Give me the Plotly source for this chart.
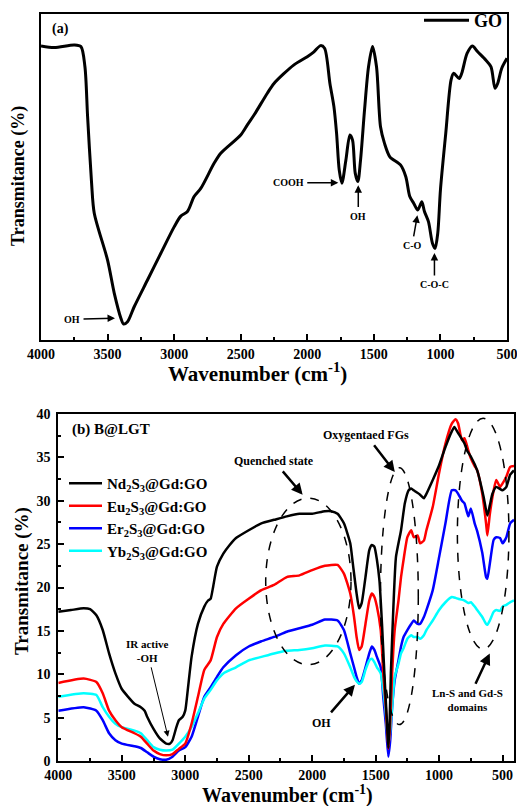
import plotly.graph_objects as go

FONT = "Liberation Serif, Times New Roman, serif"

# ---------------- (a) GO spectrum ----------------
go_wn = [4000, 3900, 3750, 3700, 3670, 3650, 3620, 3600, 3500, 3450,
         3400, 3380, 3350, 3300, 3200, 3100, 3000, 2950, 2900, 2850,
         2800, 2700, 2650, 2500, 2450, 2400, 2300, 2250, 2100, 2000,
         1950, 1900, 1870, 1830, 1800, 1780, 1760, 1740, 1710, 1680,
         1660, 1640, 1620, 1600, 1570, 1540, 1510, 1480, 1450, 1420,
         1380, 1300, 1260, 1230, 1200, 1170, 1140, 1120, 1090, 1060,
         1040, 1020, 1000, 960, 920, 900, 860, 840, 800, 760,
         720, 660, 620, 590, 570, 540, 500]
go_t = [90.2, 89.7, 90.5, 90.0, 83.8, 68.5, 48.1, 38.9, 24.5, 14.4,
        6.7, 4.9, 5.6, 10.2, 18.4, 26.6, 34.7, 38.0, 39.4, 44.0,
        46.5, 54.2, 57.3, 62.9, 66.0, 69.0, 75.7, 78.7, 84.4, 86.9,
        88.4, 90.3, 89.5, 78.7, 71.6, 63.4, 52.1, 48.1, 55.2, 62.9,
        61.3, 51.2, 48.6, 55.2, 70.6, 83.8, 90.0, 83.8, 65.4, 60.3,
        56.2, 53.7, 50.1, 44.0, 41.9, 39.9, 42.4, 39.4, 36.3, 29.7,
        28.1, 32.8, 46.0, 63.4, 79.8, 81.8, 80.2, 81.8, 87.9, 90.2,
        88.4, 85.9, 83.8, 77.2, 78.7, 83.3, 86.4]

# ---------------- (b) B@LGT spectra ----------------
nd_wn = [4000, 3900, 3800, 3750, 3700, 3650, 3600, 3550, 3500, 3450,
         3400, 3350, 3320, 3300, 3250, 3200, 3150, 3120, 3100, 3070,
         3050, 3020, 3000, 2980, 2950, 2900, 2850, 2820, 2800, 2780,
         2750, 2700, 2650, 2600, 2500, 2400, 2300, 2200, 2100, 2000,
         1900, 1850, 1800, 1750, 1700, 1680, 1650, 1630, 1610, 1580,
         1550, 1530, 1510, 1490, 1470, 1450, 1430, 1410, 1400, 1390,
         1380, 1360, 1340, 1300, 1270, 1240, 1220, 1200, 1180, 1150,
         1120, 1100, 1050, 1000, 950, 900, 880, 850, 800, 780,
         750, 700, 650, 620, 600, 580, 550, 500, 470, 440,
         410]
nd_t = [17.2, 17.4, 17.6, 17.5, 16.8, 15.1, 12.4, 10.1, 8.3, 7.4,
        6.6, 6.2, 5.8, 5.1, 3.7, 2.6, 2.0, 2.0, 2.4, 3.9,
        4.7, 5.1, 5.8, 8.2, 12.0, 15.8, 17.8, 18.5, 18.7, 20.1,
        22.4, 23.9, 24.9, 25.7, 26.6, 27.4, 27.8, 28.2, 28.5, 28.5,
        28.8, 28.8, 28.5, 27.4, 25.1, 22.8, 19.3, 17.6, 18.2, 21.2,
        24.3, 24.9, 24.7, 23.2, 20.8, 15.8, 9.7, 4.3, 1.5, 4.3,
        10.1, 17.8, 23.5, 26.6, 29.7, 31.2, 31.4, 31.2, 31.0, 30.7,
        30.3, 30.8, 32.4, 34.1, 36.2, 38.0, 38.5, 37.8, 36.6, 35.8,
        35.1, 33.5, 30.5, 28.3, 29.5, 30.8, 31.6, 31.2, 31.6, 33.0,
        33.5]

ln_wn = [4000, 3800, 3700, 3650, 3600, 3550, 3500, 3400, 3350, 3300,
         3250, 3200, 3150, 3100, 3050, 3000, 2950, 2900, 2850, 2800,
         2750, 2700, 2600, 2500, 2400, 2300, 2200, 2100, 2000, 1900,
         1800, 1750, 1700, 1670, 1650, 1630, 1610, 1580, 1550, 1530,
         1510, 1490, 1460, 1440, 1420, 1400, 1385, 1370, 1350, 1320,
         1300, 1280, 1250, 1220, 1200, 1170, 1150, 1120, 1100, 1050,
         1000, 950, 900, 870, 850, 820, 800, 770, 750, 720,
         700, 660, 630, 620, 600, 570, 550, 520, 500, 470,
         440, 410]
eu_t = [9.0, 9.5, 9.1, 7.8, 5.8, 4.7, 3.9, 3.2, 2.8, 2.0,
        1.2, 0.8, 0.65, 0.8, 1.4, 2.0, 4.3, 7.4, 10.5, 11.6,
        14.3, 15.8, 17.6, 18.7, 19.7, 20.3, 21.2, 21.4, 22.0, 22.5,
        22.6, 21.6, 19.3, 16.6, 14.3, 12.8, 13.2, 15.8, 18.5, 19.3,
        18.9, 17.8, 15.1, 10.1, 6.2, 1.4, 4.3, 10.1, 15.1, 18.5,
        21.2, 23.2, 25.8, 26.6, 25.8, 26.0, 25.1, 25.4, 26.6, 29.3,
        33.2, 36.6, 38.9, 39.4, 38.9, 37.0, 37.2, 35.8, 34.9, 34.0,
        33.5, 30.8, 27.4, 26.0, 28.5, 31.2, 32.4, 31.6, 32.0, 32.8,
        33.9, 34.0]
er_t = [5.8, 6.2, 5.8, 4.7, 3.2, 2.4, 2.0, 1.7, 1.5, 1.0,
        0.5, 0.2, 0.15, 0.5, 1.2, 1.6, 2.8, 5.1, 7.4, 8.5,
        9.7, 10.8, 12.2, 13.2, 13.8, 14.3, 14.9, 15.3, 15.7, 16.3,
        16.2, 15.1, 12.4, 10.8, 9.7, 8.9, 9.3, 10.8, 12.4, 13.2,
        12.8, 12.0, 10.8, 7.4, 4.3, 0.5, 2.4, 6.2, 9.3, 11.6,
        13.2, 14.3, 15.1, 15.8, 16.2, 15.8, 15.8, 16.6, 17.4, 19.7,
        23.5, 27.4, 31.2, 31.2, 30.8, 30.0, 29.7, 28.2, 29.1, 27.4,
        26.5, 24.0, 21.2, 21.0, 22.8, 25.5, 25.8, 25.7, 25.1, 25.8,
        27.4, 27.8]
yb_t = [7.4, 7.8, 7.6, 6.2, 5.1, 4.3, 3.9, 3.5, 3.2, 2.4,
        1.6, 1.3, 1.2, 1.3, 2.0, 2.8, 3.9, 5.5, 7.2, 8.2,
        9.3, 10.1, 10.8, 11.6, 12.0, 12.4, 12.7, 12.8, 13.0, 13.3,
        13.2, 12.4, 10.8, 9.7, 9.2, 8.9, 9.1, 10.5, 11.6, 11.8,
        11.4, 10.8, 10.1, 8.2, 5.5, 1.8, 3.5, 6.2, 9.7, 11.2,
        12.4, 13.0, 14.1, 14.5, 14.3, 14.3, 14.1, 14.5, 15.1, 16.2,
        17.4, 18.3, 18.9, 18.8, 18.7, 18.6, 18.5, 18.2, 18.3, 17.8,
        17.4, 16.6, 15.8, 15.7, 16.2, 17.2, 17.4, 17.3, 17.8, 18.0,
        18.3, 18.5]

series_b = [
    # (name, x, y, colour, legend rank) -- drawn bottom to top
    ("Er<sub>2</sub>S<sub>3</sub>@Gd:GO", ln_wn, er_t, "#0000ff", 3),
    ("Yb<sub>2</sub>S<sub>3</sub>@Gd:GO", ln_wn, yb_t, "#00ffff", 4),
    ("Eu<sub>2</sub>S<sub>3</sub>@Gd:GO", ln_wn, eu_t, "#ff0000", 2),
    ("Nd<sub>2</sub>S<sub>3</sub>@Gd:GO", nd_wn, nd_t, "#000000", 1),
]

fig = go.Figure()

fig.add_trace(go.Scatter(
    x=go_wn, y=go_t, mode="lines", name="GO",
    line=dict(color="black", width=3, shape="spline", smoothing=0.8),
    xaxis="x", yaxis="y", legend="legend"))

for name, xs, ys, col, rank in series_b:
    fig.add_trace(go.Scatter(
        x=xs, y=ys, mode="lines", name=name, legendrank=rank,
        line=dict(color=col, width=2.5, shape="spline", smoothing=0.5),
        xaxis="x2", yaxis="y2", legend="legend2"))

W, H = 517, 806


def px_x(p):
    return p / W


def px_y(p):
    return 1 - p / H


tick_font = dict(family=FONT, size=14, color="black", weight="bold")
frame = dict(showline=True, linewidth=2, linecolor="black", mirror=True,
             showgrid=False, zeroline=False, automargin=False)

fig.update_layout(
    width=W, height=H, margin=dict(l=0, r=0, t=0, b=0),
    paper_bgcolor="white", plot_bgcolor="white",
    xaxis=dict(domain=[px_x(41), px_x(507)], anchor="y", range=[4000, 500],
               dtick=500, tick0=0, ticklabeloverflow="allow",
               ticks="inside", ticklen=6, tickwidth=1.5,
               tickcolor="black", tickfont=tick_font,
               minor=dict(dtick=250, tick0=0, ticks="inside", ticklen=3,
                          tickwidth=1.5, tickcolor="black"),
               **frame),
    yaxis=dict(domain=[px_y(340), px_y(14)], anchor="x", range=[0, 100],
               showticklabels=False, ticks="", **frame),
    xaxis2=dict(domain=[px_x(58.3), px_x(514)], anchor="y2", range=[4000, 410],
                dtick=500, tick0=0, ticklabeloverflow="allow",
                ticks="inside", ticklen=6, tickwidth=1.5,
                tickcolor="black", tickfont=tick_font,
                minor=dict(dtick=250, tick0=0, ticks="inside", ticklen=3,
                           tickwidth=1.5, tickcolor="black"),
                **frame),
    yaxis2=dict(domain=[px_y(761), px_y(414)], anchor="x2", range=[0, 40],
                dtick=5, tick0=0, ticks="inside", ticklen=6, tickwidth=1.5,
                tickcolor="black", tickfont=tick_font, ticklabelstandoff=3,
                minor=dict(dtick=2.5, tick0=0, ticks="inside", ticklen=3,
                           tickwidth=1.5, tickcolor="black"),
                **frame),
    legend=dict(x=px_x(419), y=px_y(2), xanchor="left", yanchor="top",
                bgcolor="rgba(0,0,0,0)", itemwidth=45,
                font=dict(family=FONT, size=18, color="black", weight="bold")),
    legend2=dict(x=px_x(64), y=px_y(467), xanchor="left", yanchor="top",
                 bgcolor="rgba(0,0,0,0)", itemwidth=33, tracegroupgap=0,
                 font=dict(family=FONT, size=15, color="black", weight="bold")),
    showlegend=True,
)

annotations = []


def label(text, x, y, size=10, xref="x", yref="y", xanchor="center", angle=0):
    annotations.append(dict(text=text, x=x, y=y, xref=xref, yref=yref,
                            xanchor=xanchor, yanchor="middle", showarrow=False,
                            textangle=angle,
                            font=dict(family=FONT, size=size, color="black",
                                      weight="bold")))


def pointer(text, tx, ty, x1, y1, xref="x", yref="y", size=10, width=1.5,
            head=1.0):
    # label centred at (tx, ty) with an arrow running from it to (x1, y1)
    annotations.append(dict(text=text, x=x1, y=y1, ax=tx, ay=ty, xref=xref,
                            yref=yref, axref=xref, ayref=yref, showarrow=True,
                            arrowhead=2, arrowsize=head, arrowwidth=width,
                            arrowcolor="black", borderpad=3,
                            font=dict(family=FONT, size=size, color="black",
                                      weight="bold")))


# panel (a) labels
label("(a)", px_x(50), px_y(29), size=14, xref="paper", yref="paper", xanchor="left")
pointer("OH", 3767, 6.4, 3444, 6.7)
pointer("COOH", 2143, 48.2, 1767, 48.2)
pointer("OH", 1617, 38.0, 1617, 47.5)
pointer("C-O", 1213, 29.0, 1173, 38.3)
pointer("C-O-C", 1045, 17.0, 1045, 26.7)

# panel (b) labels
label("(b) B@LGT", 3908, 38.2, size=15, xref="x2", yref="y2", xanchor="left")
pointer("Quenched state", 2302, 34.6, 2075, 30.7, xref="x2", yref="y2",
        size=12, width=2.5, head=0.9)
pointer("Oxygentaed FGs", 1576, 37.6, 1349, 33.3, xref="x2", yref="y2",
        size=12, width=2.5, head=0.9)
pointer("IR active<br>-OH", 3300, 12.7, 3136, 2.8, xref="x2", yref="y2",
        size=11, width=1.0, head=1.2)
pointer("OH", 1923, 4.4, 1663, 8.8, xref="x2", yref="y2",
        size=12, width=2.5, head=0.9)
pointer("Ln-S and Gd-S<br>domains", 774, 7.0, 601, 12.4, xref="x2", yref="y2",
        size=11, width=2.5, head=0.9)

# axis titles
label("Wavenumber (cm<sup>-1</sup>)", px_x(257), px_y(372), size=21,
      xref="paper", yref="paper")
label("Transmitance (%)", px_x(18), px_y(176), size=18, xref="paper",
      yref="paper", angle=-90)
label("Wavenumber (cm<sup>-1</sup>)", px_x(287), px_y(794), size=20,
      xref="paper", yref="paper")
label("Transmitance (%)", px_x(22), px_y(581), size=19, xref="paper",
      yref="paper", angle=-90)

fig.update_layout(annotations=annotations)

# dashed regions marking the discussed bands
regions = [(2366, 1694, 11.1, 30.3), (1462, 1164, 4.2, 33.8), (856, 450, 12.9, 39.5)]
for xa, xb, ya, yb in regions:
    fig.add_shape(type="circle", xref="x2", yref="y2", x0=xa, x1=xb, y0=ya, y1=yb,
                  line=dict(color="black", width=1.5, dash="dash"))

fig.write_html("out.html")
